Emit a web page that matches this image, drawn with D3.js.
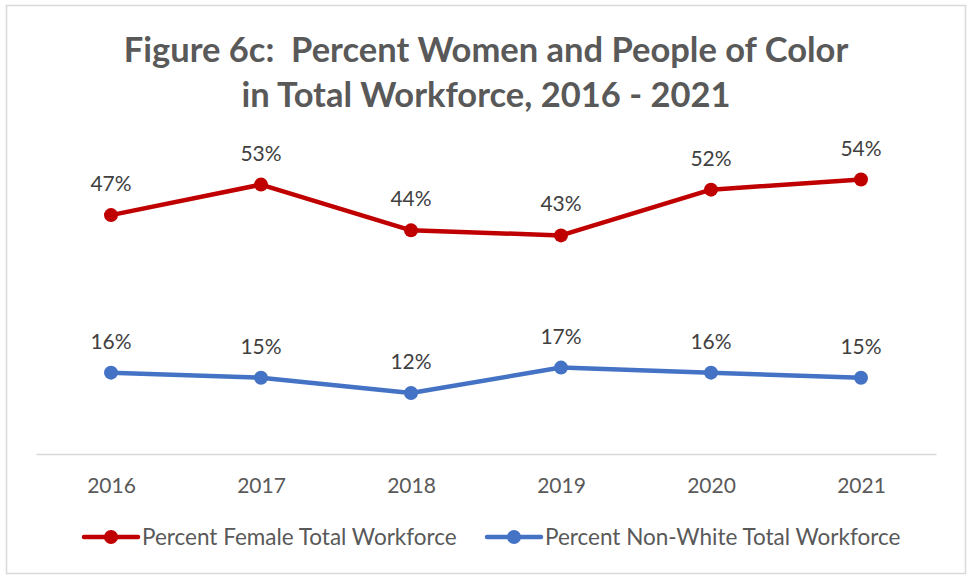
<!DOCTYPE html>
<html>
<head>
<meta charset="utf-8">
<script src="https://cdn.jsdelivr.net/npm/d3@7/dist/d3.min.js"></script>
<style>
  html, body { margin: 0; padding: 0; background: #fff; }
  svg { display: block; }
  text { font-family: Lato, "Open Sans", "Noto Sans", sans-serif; }
</style>
</head>
<body>
<svg id="chart" width="967" height="576"></svg>
<script>
// Workforce composition by year
const years = ["2016", "2017", "2018", "2019", "2020", "2021"];
const femalePct = [47, 53, 44, 43, 52, 54];
const nonWhitePct = [16, 15, 12, 17, 16, 15];
const seriesNames = ["Percent Female Total Workforce", "Percent Non-White Total Workforce"];
const titleLines = ["Figure 6c:  Percent Women and People of Color", "in Total Workforce, 2016 - 2021"];

const series = [
  { name: seriesNames[0], values: femalePct, color: "#C00000" },
  { name: seriesNames[1], values: nonWhitePct, color: "#4472C4" }
];

const svg = d3.select("#chart");

// outer frame
svg.append("rect")
  .attr("x", 6.5).attr("y", 5.5)
  .attr("width", 959).attr("height", 568)
  .attr("fill", "#fff")
  .attr("stroke", "#d9d9d9").attr("stroke-width", 1.5);

// title (keeps the double space after the colon)
svg.append("g").selectAll("text")
  .data(titleLines)
  .join("text")
  .attr("x", 486)
  .attr("y", (d, i) => 62 + i * 45)
  .attr("text-anchor", "middle")
  .attr("font-size", 34.5)
  .attr("font-weight", "bold")
  .attr("fill", "#595959")
  .style("white-space", "pre")
  .text(d => d);

const plot = { left: 36, right: 936, top: 149, bottom: 454 };

const x = d3.scalePoint()
  .domain(years)
  .range([plot.left, plot.right])
  .padding(0.5);

const y = d3.scaleLinear()
  .domain([0, 60])
  .range([plot.bottom, plot.top]);

// category axis
const xAxis = d3.axisBottom(x).tickSize(0).tickPadding(0);
const gx = svg.append("g")
  .attr("transform", `translate(0,${plot.bottom})`)
  .call(xAxis);
gx.select(".domain").attr("stroke", "#d9d9d9").attr("stroke-width", 1.5);
gx.selectAll(".tick text")
  .attr("dy", null)
  .attr("y", 39)
  .attr("font-size", 21)
  .attr("fill", "#595959")
  .attr("font-family", "Lato, 'Open Sans', sans-serif");

const line = d3.line()
  .x((d, i) => x(years[i]))
  .y(d => y(d));

series.forEach(s => {
  const g = svg.append("g");
  g.append("path")
    .datum(s.values)
    .attr("d", line)
    .attr("fill", "none")
    .attr("stroke", s.color)
    .attr("stroke-width", 4.5)
    .attr("stroke-linejoin", "round")
    .attr("stroke-linecap", "round");
  g.selectAll("circle")
    .data(s.values)
    .join("circle")
    .attr("cx", (d, i) => x(years[i]))
    .attr("cy", d => y(d))
    .attr("r", 7)
    .attr("fill", s.color);
  g.selectAll("text")
    .data(s.values)
    .join("text")
    .attr("x", (d, i) => x(years[i]))
    .attr("y", d => y(d) - 24)
    .attr("text-anchor", "middle")
    .attr("font-size", 21)
    .attr("fill", "#404040")
    .text(d => d + "%");
});

// legend
const legendItems = [
  { s: series[0], x0: 84 },
  { s: series[1], x0: 487 }
];
const lg = svg.append("g");
legendItems.forEach(item => {
  const gy = 537;
  lg.append("line")
    .attr("x1", item.x0).attr("x2", item.x0 + 54)
    .attr("y1", gy).attr("y2", gy)
    .attr("stroke", item.s.color)
    .attr("stroke-width", 4.5)
    .attr("stroke-linecap", "round");
  lg.append("circle")
    .attr("cx", item.x0 + 27).attr("cy", gy)
    .attr("r", 7)
    .attr("fill", item.s.color);
  lg.append("text")
    .attr("x", item.x0 + 58)
    .attr("y", gy + 8)
    .attr("font-size", 22.5)
    .attr("fill", "#595959")
    .text(item.s.name);
});
</script>
</body>
</html>
